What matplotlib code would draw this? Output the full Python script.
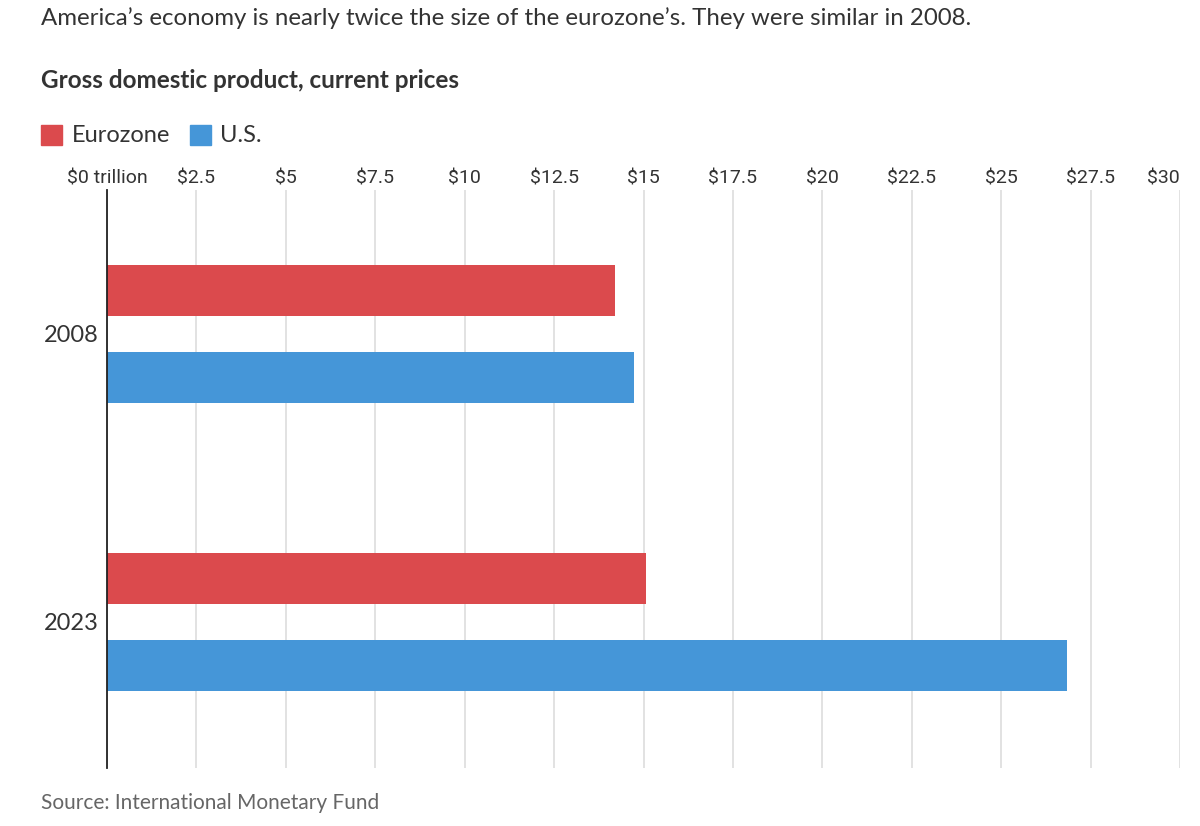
import matplotlib
matplotlib.use("Agg")
import matplotlib.pyplot as plt
from matplotlib import font_manager
from matplotlib.patches import Rectangle

years = ["2008", "2023"]
series_names = ["Eurozone", "U.S."]
eurozone = [14.19, 15.06]
us = [14.73, 26.84]
tick_values = [0, 2.5, 5, 7.5, 10, 12.5, 15, 17.5, 20, 22.5, 25, 27.5, 30]
tick_labels = ["$0 trillion", "$2.5", "$5", "$7.5", "$10", "$12.5", "$15",
               "$17.5", "$20", "$22.5", "$25", "$27.5", "$30"]

RED = "#DB4A4D"
BLUE = "#4596D8"

avail = {f.name for f in font_manager.fontManager.ttflist}
narrow = "Liberation Sans Narrow" if "Liberation Sans Narrow" in avail else "Roboto"
main = "Lato"

W, H = 1200, 826
fig = plt.figure(figsize=(W / 100, H / 100), dpi=100)
ax = fig.add_axes([107 / W, 1 - 768 / H, (1180 - 107) / W, (768 - 190) / H])

ypos = list(range(len(years)))
bh = 0.18
off = 0.151
ax.barh([y - off for y in ypos], eurozone, height=bh, color=RED, zorder=3)
ax.barh([y + off for y in ypos], us, height=bh, color=BLUE, zorder=3)

ax.set_xlim(0, 30)
ax.set_ylim(1.507, -0.5)
ax.set_xticks(tick_values)
ax.xaxis.tick_top()
ax.set_xticklabels(tick_labels, family=narrow, fontsize=14, color="#333333")
ax.tick_params(axis="x", length=0, pad=2)
labs = ax.get_xticklabels()
labs[-1].set_ha("right")
ax.set_yticks(ypos)
ax.set_yticklabels(years, family=main, fontsize=17, color="#333333")
ax.tick_params(axis="y", length=0, pad=6)
ax.grid(axis="x", color="#DDDDDD", linewidth=1.2, zorder=0)
for s in ["top", "right", "bottom"]:
    ax.spines[s].set_visible(False)
ax.spines["left"].set_color("#222222")
ax.spines["left"].set_linewidth(1.3)
ax.spines["left"].set_zorder(4)

fig.text(41 / W, 1 - 18 / H, "America\u2019s economy is nearly twice the size of the eurozone\u2019s. They were similar in 2008.",
         family=main, fontsize=17.3, color="#333333", va="center", ha="left")
fig.text(41 / W, 1 - 80 / H, "Gross domestic product, current prices",
         family=main, fontsize=17.5, fontweight="bold", color="#333333", va="center", ha="left")

# legend
fig.patches.append(Rectangle((41 / W, 1 - 145 / H), 21 / W, 20 / H, transform=fig.transFigure,
                             color=RED, figure=fig))
fig.text(72 / W, 1 - 135 / H, series_names[0], family=main, fontsize=17, color="#333333",
         va="center", ha="left")
fig.patches.append(Rectangle((190 / W, 1 - 145 / H), 21 / W, 20 / H, transform=fig.transFigure,
                             color=BLUE, figure=fig))
fig.text(220 / W, 1 - 135 / H, series_names[1], family=main, fontsize=17, color="#333333",
         va="center", ha="left")

fig.text(41 / W, 1 - 803 / H, "Source: International Monetary Fund", family=main,
         fontsize=15, color="#666666", va="center", ha="left")

fig.savefig("out.png", dpi=100)
